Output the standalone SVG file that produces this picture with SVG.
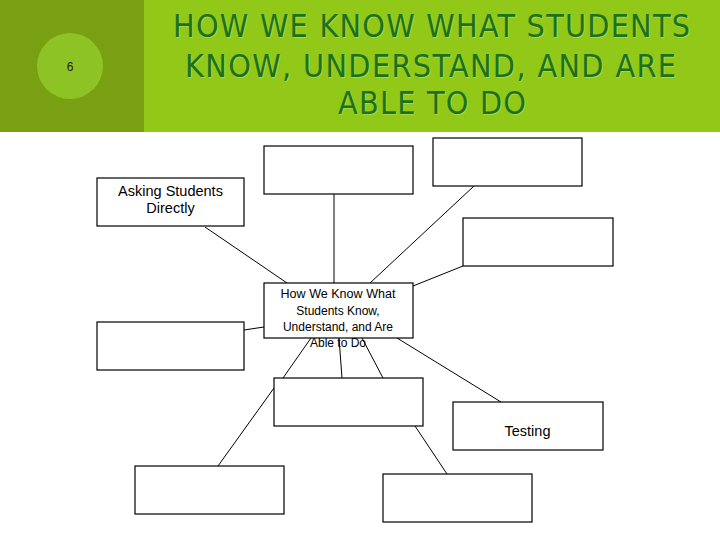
<svg xmlns="http://www.w3.org/2000/svg" width="720" height="540" viewBox="0 0 720 540">
  <style>
    .box { fill: #ffffff; stroke: #000000; stroke-width: 1.2; }
    .conn line { stroke: #000000; stroke-width: 1; }
    .lbl { font-family: "Liberation Sans", Arial, sans-serif; fill: #000000; text-anchor: middle; }
    .title { font-family: "DejaVu Sans Condensed", "DejaVu Sans", sans-serif; font-stretch: condensed; font-size: 32px; fill: #1c721c; text-anchor: middle; }
    .shadow { font-family: "DejaVu Sans Condensed", "DejaVu Sans", sans-serif; font-stretch: condensed; font-size: 32px; fill: #a8d64a; text-anchor: middle; }
  </style>
  <rect x="0" y="0" width="720" height="540" fill="#ffffff"/>
  <g id="header">
    <rect x="0" y="0" width="720" height="132" fill="#92c918"/>
    <rect x="0" y="0" width="144" height="132" fill="#79a013"/>
    <ellipse cx="70" cy="66" rx="33" ry="33" fill="#8dc324"/>
    <text x="70" y="71" font-family="'Liberation Sans', Arial, sans-serif" font-size="12" fill="#222222" text-anchor="middle">6</text>
    <text class="shadow" x="432.5" y="38" textLength="517" lengthAdjust="spacing">HOW WE KNOW WHAT STUDENTS</text>
    <text class="shadow" x="431.5" y="78" textLength="491" lengthAdjust="spacing">KNOW, UNDERSTAND, AND ARE</text>
    <text class="shadow" x="433" y="115" textLength="188" lengthAdjust="spacing">ABLE TO DO</text>
    <text class="title" x="431.5" y="37" textLength="517" lengthAdjust="spacing">HOW WE KNOW WHAT STUDENTS</text>
    <text class="title" x="430.5" y="77" textLength="491" lengthAdjust="spacing">KNOW, UNDERSTAND, AND ARE</text>
    <text class="title" x="432" y="114" textLength="188" lengthAdjust="spacing">ABLE TO DO</text>
  </g>
  <g id="connectors" class="conn">
    <line x1="205" y1="227" x2="287" y2="283"/>
    <line x1="334" y1="194" x2="334" y2="283"/>
    <line x1="474" y1="186" x2="370" y2="283"/>
    <line x1="463" y1="266" x2="413" y2="286"/>
    <line x1="244" y1="330" x2="264" y2="327"/>
    <line x1="311" y1="338" x2="283" y2="378"/>
    <line x1="339" y1="338" x2="342" y2="378"/>
    <line x1="362" y1="338" x2="383" y2="378"/>
    <line x1="397" y1="338" x2="501" y2="402"/>
    <line x1="274" y1="388" x2="218" y2="466"/>
    <line x1="415" y1="426" x2="447" y2="474"/>
  </g>
  <g id="node-asking">
    <rect class="box" x="97" y="178" width="147" height="48"/>
    <text class="lbl" font-size="14.5" x="170.5" y="196">Asking Students</text>
    <text class="lbl" font-size="14.5" x="170.5" y="213">Directly</text>
  </g>
  <g id="node-top-center">
    <rect class="box" x="264" y="146" width="149" height="48"/>
  </g>
  <g id="node-top-right">
    <rect class="box" x="433" y="138" width="149" height="48"/>
  </g>
  <g id="node-right">
    <rect class="box" x="463" y="218" width="150" height="48"/>
  </g>
  <g id="node-left">
    <rect class="box" x="97" y="322" width="147" height="48"/>
  </g>
  <g id="node-center">
    <rect class="box" x="264" y="283" width="149" height="55"/>
    <text class="lbl" font-size="12" x="338" y="298" textLength="115" lengthAdjust="spacingAndGlyphs">How We Know What</text>
    <text class="lbl" font-size="12" x="338" y="315">Students Know,</text>
    <text class="lbl" font-size="12" x="338" y="331">Understand, and Are</text>
    <text class="lbl" font-size="12" x="338" y="347">Able to Do</text>
  </g>
  <g id="node-lower-center">
    <rect class="box" x="274" y="378" width="149" height="48"/>
  </g>
  <g id="node-testing">
    <rect class="box" x="453" y="402" width="150" height="48"/>
    <text class="lbl" font-size="14.5" x="527.5" y="436">Testing</text>
  </g>
  <g id="node-bottom-left">
    <rect class="box" x="135" y="466" width="149" height="48"/>
  </g>
  <g id="node-bottom-right">
    <rect class="box" x="383" y="474" width="149" height="48"/>
  </g>
</svg>
